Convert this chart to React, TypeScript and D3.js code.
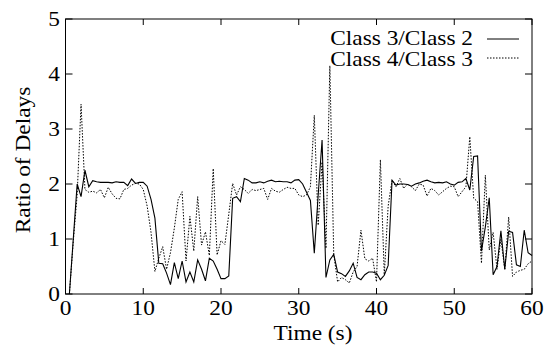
import React from "react";
import * as d3 from "d3";

// Sample times (s), every 0.5 s
const times: number[] = d3.range(1, 121).map((i) => i * 0.5);

// Class 3 / Class 2 delay ratio
const ratio32: number[] = [
  0, 1.0, 2.0, 1.77, 2.25, 1.95, 2.06, 2.04, 2.03, 2.03,
  2.03, 2.02, 2.04, 2.03, 2.03, 1.97, 2.09, 2.01, 2.03, 2.03,
  1.96, 1.72, 1.38, 0.56, 0.55, 0.38, 0.17, 0.57, 0.28, 0.6,
  0.22, 0.4, 0.22, 0.62, 0.45, 0.24, 0.65, 0.6, 0.45, 0.28,
  0.28, 0.33, 1.74, 1.77, 1.68, 2.1, 2.07, 2.02, 2.02, 2.04,
  2.02, 2.05, 2.07, 2.04, 2.05, 2.04, 2.04, 2.02, 2.07, 2.08,
  2.0, 1.85, 1.7, 0.74, 1.8, 2.8, 0.3, 0.62, 0.72, 0.4,
  0.37, 0.32, 0.42, 0.56, 0.3, 0.26, 0.35, 0.4, 0.4, 0.38,
  0.26, 0.34, 0.52, 2.07, 1.98, 2.0, 2.0, 1.99, 1.96, 2.0,
  2.02, 2.05, 2.07, 2.04, 2.02, 2.03, 2.02, 2.04, 2.0, 1.98,
  2.03, 2.04, 2.1, 1.89, 2.5, 2.51, 0.78, 1.22, 1.75, 0.35,
  0.5, 1.15, 0.45, 1.14, 1.12, 0.53, 0.5, 1.16, 0.75, 0.7,
];

// Class 4 / Class 3 delay ratio
const ratio43: number[] = [
  0, 0.95, 1.8, 3.45, 1.9, 1.85, 1.87, 1.84, 1.9, 1.75,
  1.94, 1.82, 1.74, 1.73, 1.9, 1.92, 1.98, 2.01, 2.0, 1.9,
  1.6, 1.12, 0.41, 0.65, 0.86, 0.45, 0.75, 1.2, 1.72, 1.86,
  0.6, 1.41, 0.78, 1.77, 0.89, 1.13, 0.7, 2.28, 0.71, 0.97,
  0.9, 1.45, 2.01, 1.8, 1.95, 1.9, 1.83, 1.9, 1.88, 1.9,
  1.92, 1.72, 1.92, 1.87, 1.85, 1.9, 1.94, 1.92, 1.92, 1.8,
  1.77, 1.8, 1.95, 3.25, 1.25, 2.4, 0.83, 4.15, 0.72, 0.22,
  0.3, 0.26, 0.2, 0.4, 0.5, 1.16, 0.64, 0.6, 0.65, 0.22,
  2.44, 0.35, 1.6, 2.07, 1.95, 2.1, 1.92, 2.0, 1.95, 1.88,
  2.0, 1.98, 1.78, 1.92, 1.88, 1.8, 1.86, 1.92, 1.96, 1.95,
  1.77, 1.86, 1.95, 2.86, 1.74, 1.68, 0.56, 2.16, 0.8, 1.12,
  0.45, 1.0, 0.44, 1.4, 0.32, 0.4, 0.43, 0.45, 0.55, 0.6,
];

const xTicks: number[] = [0, 10, 20, 30, 40, 50, 60];
const yTicks: number[] = [0, 1, 2, 3, 4, 5];
const seriesNames: string[] = ["Class 3/Class 2", "Class 4/Class 3"];

const W = 546;
const H = 346;
const textStyle: React.CSSProperties = {
  fontFamily: '"Liberation Serif", "DejaVu Serif", serif',
  fontSize: "20.5px",
};

// Text drawn with a slightly widened serif face
function Label(props: {
  x: number;
  y: number;
  anchor?: "start" | "middle" | "end";
  rotate?: number;
  children: React.ReactNode;
}) {
  const { x, y, anchor = "start", rotate = 0, children } = props;
  return (
    <g transform={`translate(${x},${y}) rotate(${rotate}) scale(1.14,1)`}>
      <text x={0} y={0} style={textStyle} textAnchor={anchor} fill="#000">
        {children}
      </text>
    </g>
  );
}

export default function App() {
  const x = d3.scaleLinear().domain([0, 60]).range([65.5, 532]);
  const y = d3.scaleLinear().domain([0, 5]).range([294, 19]);

  const line = d3
    .line<number>()
    .x((_, i) => x(times[i]))
    .y((d) => y(d));

  const [x0, x1] = x.range();
  const [y0, y1] = y.range();
  const tickLen = 6;

  return (
    <svg
      width={W}
      height={H}
      style={{ position: "absolute", left: 0, top: 0, background: "#fff" }}
    >
      <rect x={0} y={0} width={W} height={H} fill="#fff" />

      {/* data */}
      <path d={line(ratio43) || ""} fill="none" stroke="#000" strokeWidth={1} strokeDasharray="1.5,1.5" />
      <path d={line(ratio32) || ""} fill="none" stroke="#000" strokeWidth={1.1} />

      {/* frame */}
      <rect x={x0} y={y1} width={x1 - x0} height={y0 - y1} fill="none" stroke="#000" strokeWidth={1} />

      {/* x ticks, mirrored on top */}
      {xTicks.map((t) => (
        <g key={"x" + t}>
          <line x1={x(t)} x2={x(t)} y1={y0} y2={y0 - tickLen} stroke="#000" />
          <line x1={x(t)} x2={x(t)} y1={y1} y2={y1 + tickLen} stroke="#000" />
          <Label x={x(t)} y={315} anchor="middle">
            {t}
          </Label>
        </g>
      ))}

      {/* y ticks, mirrored on right */}
      {yTicks.map((t) => (
        <g key={"y" + t}>
          <line x1={x0} x2={x0 + tickLen + 1} y1={y(t)} y2={y(t)} stroke="#000" />
          <line x1={x1} x2={x1 - tickLen - 1} y1={y(t)} y2={y(t)} stroke="#000" />
          <Label x={60} y={y(t) + 7} anchor="end">
            {t}
          </Label>
        </g>
      ))}

      {/* axis titles */}
      <Label x={313} y={340} anchor="middle">
        Time (s)
      </Label>
      <Label x={30} y={160} anchor="middle" rotate={-90}>
        Ratio of Delays
      </Label>

      {/* legend */}
      {seriesNames.map((name, i) => (
        <g key={name}>
          <Label x={473} y={45 + i * 20.5} anchor="end">
            {name}
          </Label>
          <line
            x1={487}
            x2={519}
            y1={39 + i * 19}
            y2={39 + i * 19}
            stroke="#000"
            strokeWidth={1}
            strokeDasharray={i === 1 ? "1.5,1.5" : undefined}
          />
        </g>
      ))}
    </svg>
  );
}
